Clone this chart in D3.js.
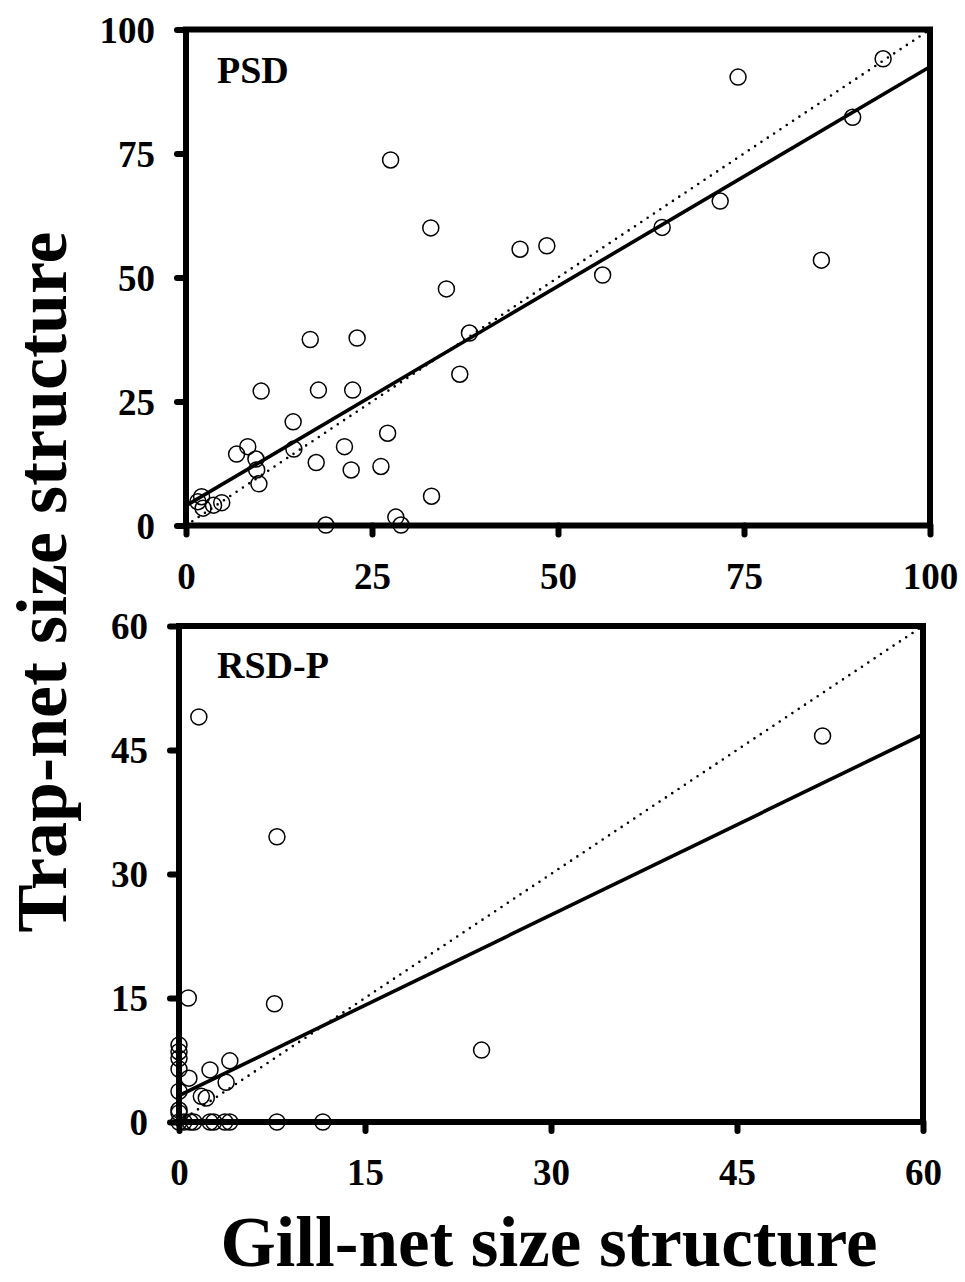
<!DOCTYPE html>
<html><head><meta charset="utf-8">
<script src="https://cdn.jsdelivr.net/npm/d3@7"></script>
<style>body{margin:0;background:#fff}svg{display:block}</style>
</head><body>
<script>
// ---- Data ----
const psdGill = [93.7,74.2,89.6,27.5,71.8,32.9,64.0,44.9,48.5,56.0,85.4,35.0,16.7,23.0,38.1,36.8,10.1,17.8,22.4,14.4,14.5,8.3,6.8,9.4,9.5,9.8,21.3,27.1,17.5,22.2,26.2,33.0,18.8,28.2,28.9,2.1,1.6,2.3,3.7,4.8];
const psdTrap = [94.1,90.4,82.3,73.7,65.4,60.0,60.1,55.7,56.4,50.5,53.5,47.7,37.5,37.8,38.8,30.5,27.1,27.3,27.3,20.9,15.4,15.9,14.4,13.4,11.2,8.4,15.9,18.6,12.7,11.2,11.9,5.9,0.1,1.7,0.1,5.8,4.8,3.5,4.1,4.6];
const rsdGill = [1.6,51.9,7.9,0.75,7.7,24.4,0,0,0,0,0.8,2.5,4.1,3.8,0,1.8,2.2,0,0,0,0.4,0.9,1.2,2.5,2.8,3.7,4.1,7.9,11.6];
const rsdTrap = [49.0,46.7,34.5,15.0,14.3,8.7,9.3,8.5,7.7,6.4,5.3,6.3,7.4,4.8,3.7,3.1,2.9,1.45,1.1,0,0,0,0,0,0,0,0,0,0];
const psdFit = [4.0, 0.885];   // intercept, slope
const rsdFit = [3.2, 0.728];
const psdTicks = [0,25,50,75,100];
const rsdTicks = [0,15,30,45,60];
const panelLabels = ["PSD","RSD-P"];
const xTitle = "Gill-net size structure";
const yTitle = "Trap-net size structure";

const W = 965, H = 1282;
const svg = d3.select("body").append("svg").attr("width",W).attr("height",H);
const FONT = "'Liberation Serif','Times New Roman',serif";

function panel(cfg){
  const x = d3.scaleLinear().domain([0,cfg.max]).range([cfg.x0,cfg.x1]);
  const y = d3.scaleLinear().domain([0,cfg.max]).range([cfg.y0,cfg.y1]);
  const g = svg.append("g");
  const clipId = "clip"+cfg.id;
  svg.append("clipPath").attr("id",clipId).append("rect")
    .attr("x",cfg.x0).attr("y",cfg.y1).attr("width",cfg.x1-cfg.x0).attr("height",cfg.y0-cfg.y1);

  // 1:1 dotted line
  g.append("line").attr("clip-path",`url(#${clipId})`)
    .attr("x1",x(0)).attr("y1",y(0)).attr("x2",x(cfg.max)).attr("y2",y(cfg.max))
    .attr("stroke","#000").attr("stroke-width",2.6).attr("stroke-linecap","round")
    .attr("stroke-dasharray","0,7.6");
  // regression line
  g.append("line").attr("clip-path",`url(#${clipId})`)
    .attr("x1",x(0)).attr("y1",y(cfg.fit[0])).attr("x2",x(cfg.max)).attr("y2",y(cfg.fit[0]+cfg.fit[1]*cfg.max))
    .attr("stroke","#000").attr("stroke-width",3.6);

  // points
  g.selectAll("circle.p").data(cfg.gx.map((v,i)=>[v,cfg.ty[i]])).join("circle")
    .attr("class","p").attr("cx",d=>x(d[0])).attr("cy",d=>y(d[1])).attr("r",8)
    .attr("fill","none").attr("stroke","#000").attr("stroke-width",1.5);

  // axes
  const ax = g.append("g").attr("transform",`translate(0,${cfg.y0})`)
    .call(d3.axisBottom(x).tickValues(cfg.ticks).tickSize(9).tickPadding(28).tickFormat(d3.format("d")));
  const ay = g.append("g").attr("transform",`translate(${cfg.x0},0)`)
    .call(d3.axisLeft(y).tickValues(cfg.ticks).tickSize(9).tickPadding(22).tickFormat(d3.format("d")));
  [ax,ay].forEach(a=>{
    a.select(".domain").remove();
    a.selectAll(".tick line").attr("stroke","#000").attr("stroke-width",6).attr("stroke-linecap","round");
    a.selectAll(".tick text").attr("fill","#000").style("font-family",FONT)
      .style("font-weight","bold").style("font-size","37px");
  });
  ax.selectAll(".tick text").attr("dy","0.71em");
  ay.selectAll(".tick text").attr("dy","0.34em");

  // frame
  g.append("rect").attr("x",cfg.x0).attr("y",cfg.y1).attr("width",cfg.x1-cfg.x0).attr("height",cfg.y0-cfg.y1)
    .attr("fill","none").attr("stroke","#000").attr("stroke-width",6);

  // panel label
  g.append("text").attr("x",217).attr("y",cfg.labelY).text(cfg.label)
    .style("font-family",FONT).style("font-weight","bold").style("font-size","38px");
}

panel({id:1,max:100,x0:186,x1:930,y0:525.5,y1:29.5,fit:psdFit,gx:psdGill,ty:psdTrap,ticks:psdTicks,label:panelLabels[0],labelY:83});
panel({id:2,max:60,x0:179,x1:923,y0:1122,y1:626,fit:rsdFit,gx:rsdGill,ty:rsdTrap,ticks:rsdTicks,label:panelLabels[1],labelY:678});

svg.append("text").attr("x",549).attr("y",1266).attr("text-anchor","middle").text(xTitle)
  .style("font-family",FONT).style("font-weight","bold").style("font-size","71px");
svg.append("text").attr("transform","translate(66,582) rotate(-90)").attr("text-anchor","middle").text(yTitle)
  .style("font-family",FONT).style("font-weight","bold").style("font-size","72px");
</script>
</body></html>
